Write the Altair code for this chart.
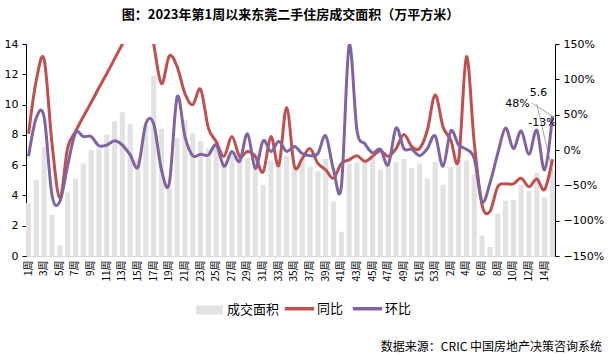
import altair as alt
import pandas as pd

# ---- data ----
week_labels = [f"{w}周" for w in range(1, 54)] + [f"{w}周" for w in range(1, 16)]

area = [3.5, 5.0, 7.2, 2.7, 0.7, 4.2, 5.1, 6.1, 7.0, 7.1,
        8.0, 8.9, 9.5, 8.7, 6.4, 8.6, 11.9, 8.4, 4.5, 7.8,
        9.0, 8.1, 7.6, 7.1, 7.5, 6.3, 6.9, 6.6, 6.5, 6.8,
        4.7, 6.3, 6.0, 6.6, 5.9, 6.4, 5.9, 5.6, 6.4, 3.6,
        1.6, 6.1, 6.2, 6.3, 6.5, 5.7, 6.0, 6.2, 6.4, 5.8,
        6.1, 5.1, 6.2, 4.7, 5.9, 6.3, 6.3, 5.4, 1.35, 0.6,
        2.8, 3.65, 3.7, 4.7, 4.3, 5.5, 3.85, 5.6]

yoy = [23, 99, 128, 9, -68, 3, 26, 47, 67, 88,
       108, 129, 150, 172, 193, 210, 150, 94, 133, 118,
       80, 64, 86, 31, 12, -9, 19, -9, -2, -9,
       -31, 19, -22, 60, -23, -12, 2, -19, -28, -40,
       -19, -14, -8, -16, -9, -1, -9, 2, 22, 5,
       2, 28, 78, 33, 14, -14, 132, 10, -78, -87,
       -52, -48, -48, -40, -52, -41, -56, -13]

mom = [-9, 46, 46, -64, -73, -22, 24, 19, 19, 6,
       7, 13, 7, -7, -24, 37, 37, -28, -47, 75,
       19, -8, -6, -7, 7, -23, -2, -16, 23, -26,
       13, -2, 12, -2, 5, -5, -8, -5, 20, -28,
       -52, 148, 28, 9, -4, 1, -21, 31, 2, 1,
       -8, 2, 20, -23, 27, 7, 1, -12, -73, -47,
       -5, 31, 2, 27, -6, 28, -28, 48]

title_text = "图：2023年第1周以来东莞二手住房成交面积（万平方米）"
source_text = "数据来源：CRIC 中国房地产决策咨询系统"

n = len(area)
df = pd.DataFrame({
    "idx": list(range(n)),
    "area": area,
    "bar": ["成交面积"] * n,
})
long = pd.concat([
    pd.DataFrame({"idx": list(range(n)), "pct": [v / 100 for v in yoy], "series": "同比"}),
    pd.DataFrame({"idx": list(range(n)), "pct": [v / 100 for v in mom], "series": "环比"}),
], ignore_index=True)

last = n - 1
ann_bar = pd.DataFrame({"idx": [last], "area": [area[last]], "t": [f"{area[last]}"]})
ann_mom = pd.DataFrame({"idx": [last], "pct": [mom[last] / 100], "t": [f"{mom[last]}%"]})
ann_yoy = pd.DataFrame({"idx": [last], "pct": [yoy[last] / 100], "t": [f"{yoy[last]}%"]})

FONT = "Noto Sans CJK SC"
RED = "#c0504d"
PURPLE = "#8064a2"
BARC = "#e2e2e2"

label_js = "[" + ",".join(f"'{l}'" for l in week_labels) + "]"

x_enc = alt.X(
    "idx:O",
    scale=alt.Scale(paddingInner=0.35, paddingOuter=0.0),
    axis=alt.Axis(
        title=None, values=list(range(0, n, 2)),
        labelExpr=f"{label_js}[datum.value]",
        labelAngle=-90, ticks=False, domainColor="#d9d9d9",
        labelFontSize=10, labelPadding=4, labelColor="#000", labelFont=FONT,
    ),
)

left_scale = alt.Scale(domain=[0, 14], nice=False)
right_scale = alt.Scale(domain=[-1.5, 1.5], nice=False)

bars = alt.Chart(df).mark_bar().encode(
    x=x_enc,
    y=alt.Y("area:Q", scale=left_scale, axis=alt.Axis(
        title=None, orient="left", values=list(range(0, 15, 2)), grid=False,
        domainColor="#000", tickColor="#000", tickSize=4, labelFontSize=11,
        labelColor="#000", labelPadding=4, labelFont="DejaVu Sans")),
    fill=alt.Fill("bar:N", scale=alt.Scale(domain=["成交面积"], range=[BARC]),
                  legend=alt.Legend(title=None, orient="none", legendX=174.5, legendY=257,
                                    direction="horizontal",
                                    symbolType="M-1.5,-0.5L1.5,-0.5L1.5,0.5L-1.5,0.5Z",
                                    symbolSize=324, symbolStrokeWidth=0,
                                    labelFontSize=13, labelFont=FONT, labelColor="#000",
                                    labelOffset=8.5)),
)

lines = alt.Chart(long).mark_line(interpolate="cardinal", strokeWidth=3, clip=True).encode(
    x=x_enc,
    y=alt.Y("pct:Q", scale=right_scale, axis=alt.Axis(
        title=None, orient="right", format=".0%", values=[-1.5, -1, -0.5, 0, 0.5, 1, 1.5],
        grid=False, domainColor="#000", tickColor="#000", tickSize=4, labelFontSize=11,
        labelColor="#000", labelPadding=4, labelFont="DejaVu Sans")),
    stroke=alt.Stroke("series:N", scale=alt.Scale(domain=["同比", "环比"], range=[RED, PURPLE]),
                      legend=alt.Legend(title=None, orient="none", legendX=257, legendY=248,
                                        direction="horizontal", symbolType="stroke",
                                        symbolSize=860, symbolStrokeWidth=3.5,
                                        labelFontSize=13, labelFont=FONT, labelColor="#000",
                                        labelOffset=1, columnPadding=1)),
    detail="series:N",
)

bar_text = alt.Chart(ann_bar).mark_text(
    dx=-14, dy=-78, fontSize=11, font="DejaVu Sans", color="#000"
).encode(x=x_enc, y=alt.Y("area:Q", scale=left_scale, axis=None), text="t:N")

bar_leader = alt.Chart(ann_bar).mark_rule(color="#a6a6a6", strokeWidth=1).encode(
    x=x_enc, y=alt.Y("area:Q", scale=left_scale, axis=None),
    x2=alt.value(510.7), y2=alt.value(60),
)

mom_text = alt.Chart(ann_mom).mark_text(
    dx=-35, dy=-12, fontSize=11, font="DejaVu Sans", color="#000"
).encode(x=x_enc, y=alt.Y("pct:Q", scale=right_scale, axis=None), text="t:N")

yoy_text = alt.Chart(ann_yoy).mark_text(
    dx=-10, dy=-36, fontSize=11, font="DejaVu Sans", color="#000"
).encode(x=x_enc, y=alt.Y("pct:Q", scale=right_scale, axis=None), text="t:N")

mom_leader = alt.Chart(ann_mom).mark_rule(color="#a6a6a6", strokeWidth=1).encode(
    x=x_enc, y=alt.Y("pct:Q", scale=right_scale, axis=None),
    x2=alt.value(505.7), y2=alt.value(59),
)

src = alt.Chart(pd.DataFrame({"t": [source_text]})).mark_text(
    align="right", baseline="middle", fontSize=12, font=FONT, color="#000"
).encode(text="t:N", x=alt.value(576), y=alt.value(303))

chart = alt.layer(
    bars, bar_leader, bar_text, lines, mom_leader, mom_text, yoy_text, src
).resolve_scale(
    y="independent"
).properties(
    width=529, height=212,
    title=alt.TitleParams(title_text, fontSize=13, font=FONT, fontWeight="bold",
                          anchor="middle", offset=16, color="#000"),
    autosize=alt.AutoSizeParams(type="none"),
    padding={"left": 26, "top": 44, "right": 55, "bottom": 100},
    background="white",
).configure_view(stroke=None)

chart.save("out.html", embed_options={"renderer": "svg", "actions": False})
